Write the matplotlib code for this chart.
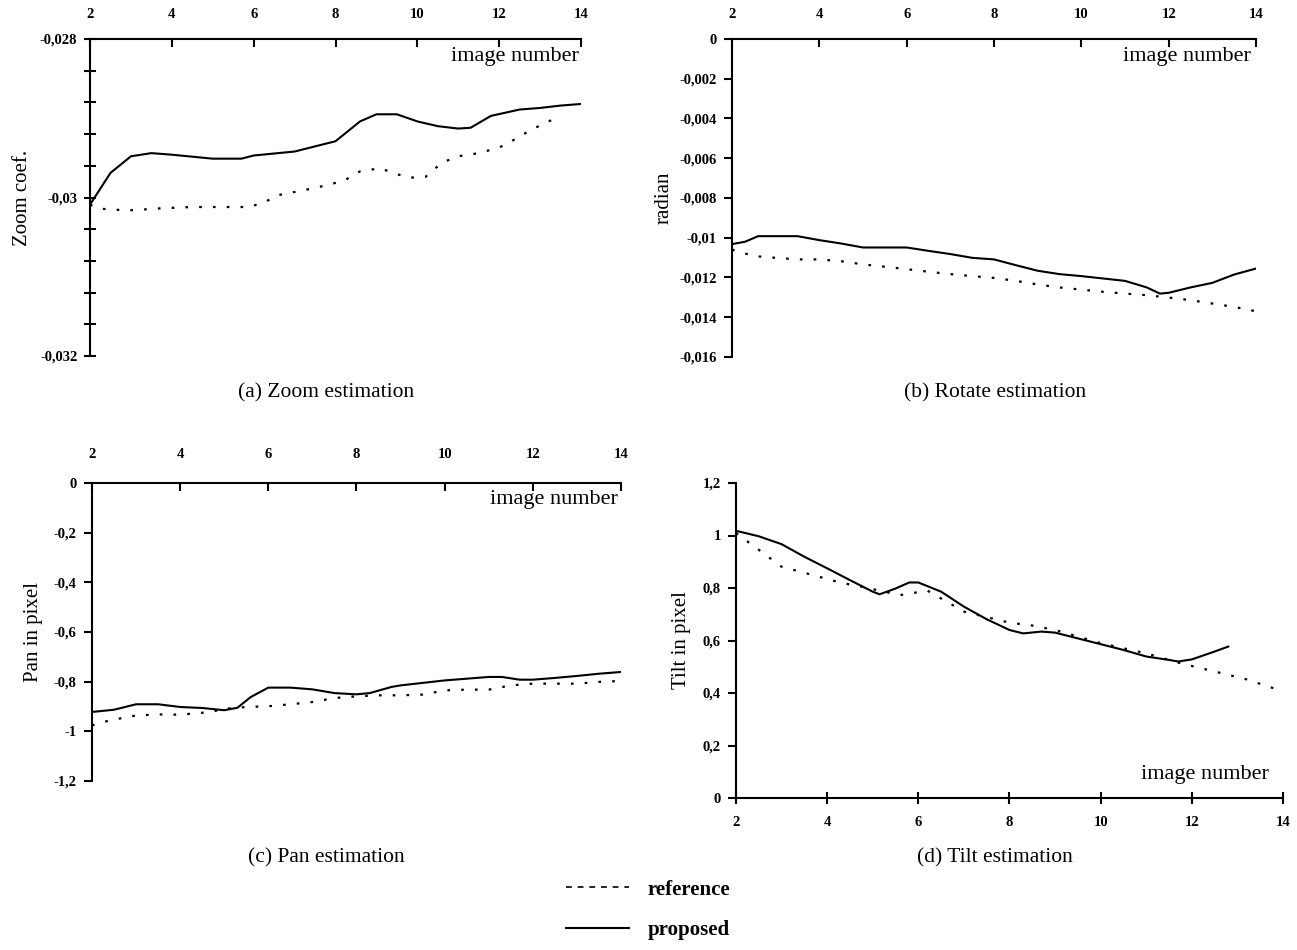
import matplotlib
matplotlib.use("Agg")
from matplotlib import pyplot as plt
from matplotlib.lines import Line2D
from matplotlib.ticker import FixedLocator

plt.rcParams['font.family'] = ['Liberation Serif', 'DejaVu Serif']

# (a) zoom
zoom_prop_x = [2, 2.5, 3, 3.5, 4, 5, 5.7, 6, 7, 8, 8.6, 9, 9.5, 10, 10.5, 11, 11.3, 11.8, 12.5, 13, 13.5, 14]
zoom_prop_y = [-0.03009, -0.02969, -0.02948, -0.02944, -0.02946, -0.02951, -0.02951, -0.02947, -0.02942,
               -0.02929, -0.02904, -0.02895, -0.02895, -0.02904, -0.02910, -0.02913, -0.02912, -0.02897,
               -0.02889, -0.02887, -0.02884, -0.02882]
zoom_ref_x = [2, 2.2, 2.8, 3.1, 3.6, 4.5, 5.9, 6.3, 6.6, 7.5, 8.2, 8.6, 9.1, 9.4, 9.8, 10.2, 10.6, 11, 11.5,
              12, 12.3, 12.8, 13.5]
zoom_ref_y = [-0.03009, -0.03014, -0.03016, -0.03016, -0.03014, -0.03012, -0.03012, -0.03005, -0.02997,
              -0.02988, -0.02979, -0.02967, -0.02963, -0.02969, -0.02975, -0.02974, -0.02956, -0.02948,
              -0.02944, -0.02937, -0.02929, -0.02914, -0.02897]

# (b) rotate
rot_prop_x = [2, 2.3, 2.6, 3, 3.5, 4, 4.5, 5, 5.5, 6, 6.5, 7, 7.5, 8, 8.5, 9, 9.5, 10, 10.5, 11, 11.5,
              11.8, 12, 12.5, 13, 13.5, 14]
rot_prop_y = [-0.01032, -0.01020, -0.00992, -0.00992, -0.00992, -0.01012, -0.01029, -0.01049, -0.01049,
              -0.01049, -0.01066, -0.01082, -0.01101, -0.01109, -0.01138, -0.01166, -0.01183, -0.01193,
              -0.01205, -0.01217, -0.01250, -0.01281, -0.01277, -0.01250, -0.01227, -0.01185, -0.01155]
rot_ref_x = [2, 2.5, 3, 3.5, 4, 4.5, 5, 5.5, 6, 6.5, 7, 7.5, 8, 8.5, 9, 9.5, 10, 10.5, 11, 11.5, 12,
             12.5, 13, 13.5, 14]
rot_ref_y = [-0.01060, -0.01092, -0.01101, -0.01109, -0.01109, -0.01118, -0.01134, -0.01146, -0.01158,
             -0.01171, -0.01183, -0.01193, -0.01202, -0.01217, -0.01235, -0.01250, -0.01261, -0.01272,
             -0.01281, -0.01289, -0.01301, -0.01314, -0.01331, -0.01348, -0.01370]

# (c) pan
pan_prop_x = [2, 2.5, 3, 3.5, 4, 4.5, 5, 5.3, 5.6, 6, 6.5, 7, 7.5, 8, 8.3, 8.8, 9, 9.5, 10, 10.5, 11,
              11.3, 11.7, 12, 12.5, 13, 13.5, 14]
pan_prop_y = [-0.922, -0.913, -0.891, -0.891, -0.902, -0.906, -0.915, -0.905, -0.862, -0.824, -0.824,
              -0.831, -0.846, -0.851, -0.846, -0.821, -0.815, -0.805, -0.795, -0.788, -0.781, -0.781,
              -0.792, -0.792, -0.785, -0.777, -0.768, -0.761]
pan_ref_x = [2, 2.4, 3, 3.5, 4, 4.7, 5, 5.5, 6, 6.5, 7, 7.5, 8, 8.5, 9, 9.5, 10, 10.5, 11, 11.5, 12,
             12.5, 13, 13.5, 14]
pan_ref_y = [-0.976, -0.956, -0.936, -0.932, -0.933, -0.922, -0.909, -0.902, -0.899, -0.891, -0.882,
             -0.866, -0.859, -0.855, -0.855, -0.852, -0.835, -0.832, -0.832, -0.815, -0.808, -0.808,
             -0.808, -0.801, -0.797]

# (d) tilt
tilt_prop_x = [2, 2.5, 3, 3.5, 4, 4.5, 5, 5.15, 5.5, 5.8, 6, 6.5, 7, 7.5, 8, 8.3, 8.7, 9, 9.5, 10,
               10.5, 11, 11.5, 11.7, 12, 12.5, 12.8]
tilt_prop_y = [1.018, 0.997, 0.967, 0.919, 0.875, 0.830, 0.786, 0.776, 0.798, 0.821, 0.821, 0.786, 0.729,
               0.681, 0.640, 0.627, 0.634, 0.630, 0.608, 0.586, 0.564, 0.539, 0.526, 0.520, 0.528, 0.558,
               0.577]
tilt_ref_x = [2, 3, 3.5, 4.3, 4.7, 5.6, 6.2, 7, 8, 8.5, 9, 10, 11, 11.8, 12.5, 13.2, 13.9, 14]
tilt_ref_y = [1.010, 0.881, 0.858, 0.820, 0.807, 0.773, 0.790, 0.710, 0.668, 0.657, 0.640, 0.590, 0.551,
              0.511, 0.482, 0.452, 0.412, 0.405]

x_ticks = [2, 4, 6, 8, 10, 12, 14]

W, H = 1297, 950
fig = plt.figure(figsize=(W / 100, H / 100), dpi=100)

REF_LS = (0, (1.2, 5))


def box(left, right, top, bottom):
    return [left / W, 1 - bottom / H, (right - left) / W, (bottom - top) / H]


def comma(v):
    s = ('%.3f' % v).rstrip('0').rstrip('.')
    if s in ('-0', '0'):
        return '0'
    return s.replace('.', ',')


def style(ax, ylim, yticks, ylabels, top_axis, xpad):
    ax.set_xlim(2, 14)
    ax.set_ylim(*ylim)
    for s in ax.spines.values():
        s.set_linewidth(1.5)
    ax.spines['right'].set_visible(False)
    if top_axis:
        ax.spines['bottom'].set_visible(False)
        ax.xaxis.tick_top()
    else:
        ax.spines['top'].set_visible(False)
    ax.set_xticks(x_ticks)
    ax.set_xticklabels([str(t) for t in x_ticks])
    ax.yaxis.set_major_locator(FixedLocator(yticks))
    ax.set_yticklabels(ylabels)
    ax.tick_params(axis='x', direction='in', length=6, width=1.5, pad=xpad, labelsize=10.5)
    ax.tick_params(axis='y', direction='out', length=6, width=1.5, pad=5, labelsize=10.5)
    for lbl in ax.get_xticklabels() + ax.get_yticklabels():
        lbl.set_fontweight('bold')


# (a)
ax = fig.add_axes(box(90, 581, 39, 356))
ax.plot(zoom_prop_x, zoom_prop_y, color='black', lw=1.5)
ax.plot(zoom_ref_x, zoom_ref_y, color='black', lw=1.6, ls=REF_LS)
yt = [-0.028 - 0.0004 * i for i in range(11)]
yl = [comma(v) if i in (0, 5, 10) else '' for i, v in enumerate(yt)]
style(ax, (-0.032, -0.028), yt, yl, True, 13)
ax.tick_params(axis='y', direction='inout', length=8)
ax.text(0.995, 0.975, 'image number', transform=ax.transAxes, ha='right', va='top', fontsize=16)
ax.set_ylabel('Zoom coef.', fontsize=15, labelpad=6)
fig.text(326 / W, 1 - 393 / H, '(a) Zoom estimation', ha='center', va='center', fontsize=15.5)

# (b)
ax = fig.add_axes(box(732, 1256, 39, 357))
ax.plot(rot_prop_x, rot_prop_y, color='black', lw=1.5)
ax.plot(rot_ref_x, rot_ref_y, color='black', lw=1.6, ls=REF_LS)
yt = [-0.002 * i for i in range(9)]
style(ax, (-0.016, 0), yt, [comma(v) for v in yt], True, 13)
ax.text(0.99, 0.975, 'image number', transform=ax.transAxes, ha='right', va='top', fontsize=16)
ax.set_ylabel('radian', fontsize=15, labelpad=4)
fig.text(995 / W, 1 - 393 / H, '(b) Rotate estimation', ha='center', va='center', fontsize=15.5)

# (c)
ax = fig.add_axes(box(92, 621, 483, 781))
ax.plot(pan_prop_x, pan_prop_y, color='black', lw=1.5)
ax.plot(pan_ref_x, pan_ref_y, color='black', lw=1.6, ls=REF_LS)
yt = [-0.2 * i for i in range(7)]
style(ax, (-1.2, 0), yt, [comma(round(v, 1)) for v in yt], True, 16)
ax.text(0.995, 0.975, 'image number', transform=ax.transAxes, ha='right', va='top', fontsize=16)
ax.set_ylabel('Pan in pixel', fontsize=15, labelpad=8)
fig.text(326 / W, 1 - 858 / H, '(c) Pan estimation', ha='center', va='center', fontsize=15.5)

# (d)
ax = fig.add_axes(box(736, 1283, 483, 798))
ax.plot(tilt_prop_x, tilt_prop_y, color='black', lw=1.5)
ax.plot(tilt_ref_x, tilt_ref_y, color='black', lw=1.6, ls=REF_LS)
yt = [0.2 * i for i in range(7)]
style(ax, (0, 1.2), yt, [comma(round(v, 1)) for v in yt], False, 9)
ax.tick_params(axis='x', direction='inout', length=8)
ax.text(0.975, 0.045, 'image number', transform=ax.transAxes, ha='right', va='bottom', fontsize=16)
ax.set_ylabel('Tilt in pixel', fontsize=15, labelpad=8)
fig.text(995 / W, 1 - 858 / H, '(d) Tilt estimation', ha='center', va='center', fontsize=15.5)

handles = [Line2D([], [], color='black', lw=1.2, ls=(0, (3.5, 3.5))),
           Line2D([], [], color='black', lw=1.5)]
fig.legend(handles, ['reference', 'proposed'], loc='center', bbox_to_anchor=(648 / W, 1 - 910 / H),
           frameon=False, prop={'size': 15, 'weight': 'bold'}, handlelength=3.0,
           handletextpad=0.9, labelspacing=1.0)

fig.savefig('out.png', dpi=100)
